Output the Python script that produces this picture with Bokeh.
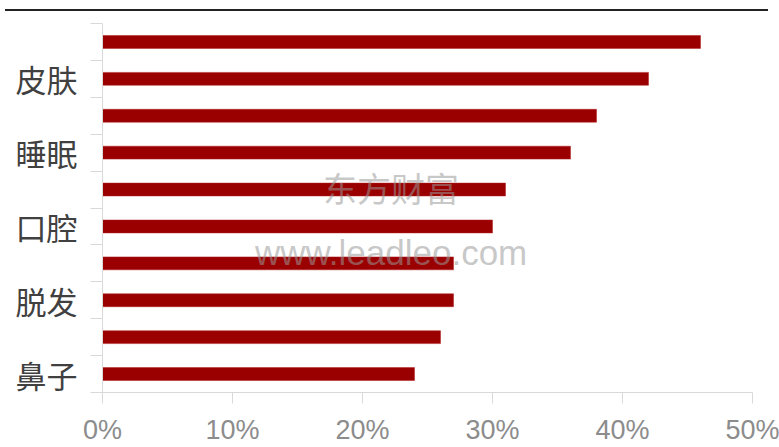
from bokeh.plotting import figure
from bokeh.models import FixedTicker, PrintfTickFormatter, Div, Label, ColumnDataSource
from bokeh.layouts import column
from bokeh.embed import file_html
from bokeh.resources import INLINE

# Data, top to bottom
labels = ["", "皮肤", "", "睡眠", "", "口腔", "", "脱发", "", "鼻子"]
values = [46, 42, 38, 36, 31, 30, 27, 27, 26, 24]
x_ticks = [0, 10, 20, 30, 40, 50]

n = len(values)
ypos = [n - 1 - i + 0.5 for i in range(n)]
src = ColumnDataSource(dict(y=ypos, v=values))

p = figure(width=779, height=436, output_backend="svg", toolbar_location=None,
           x_range=(0, 50), y_range=(0, n),
           min_border_left=102, min_border_right=27,
           min_border_top=12, min_border_bottom=52)
p.outline_line_color = None
p.xgrid.visible = False
p.ygrid.visible = False
p.background_fill_color = "white"
p.border_fill_color = "white"

p.hbar(y="y", right="v", left=0, height=0.35, source=src,
       fill_color="#9b0000", line_color="#b02020", line_width=0.5)

# x axis
p.xaxis.ticker = FixedTicker(ticks=x_ticks, minor_ticks=[])
p.xaxis.formatter = PrintfTickFormatter(format="%d%%")
p.xaxis.axis_line_color = "#d9d9d9"
p.xaxis.major_tick_line_color = "#d9d9d9"
p.xaxis.major_tick_out = 11
p.xaxis.major_tick_in = 0
p.xaxis.minor_tick_line_color = None
p.xaxis.major_label_text_font = "Liberation Sans"
p.xaxis.major_label_text_font_size = "27px"
p.xaxis.major_label_text_color = "#8c8c8c"
p.xaxis.major_label_standoff = 11

# y axis
centers = ypos
bounds = [i for i in range(n + 1)]
p.yaxis.ticker = FixedTicker(ticks=centers, minor_ticks=bounds)
p.yaxis.major_label_overrides = {c: lab for c, lab in zip(centers, labels)}
p.yaxis.axis_line_color = "#d9d9d9"
p.yaxis.major_tick_line_color = None
p.yaxis.major_tick_out = 0
p.yaxis.minor_tick_line_color = "#d9d9d9"
p.yaxis.minor_tick_out = 12
p.yaxis.minor_tick_in = 0
p.yaxis.major_label_text_font = "Noto Sans CJK SC"
p.yaxis.major_label_text_font_size = "31px"
p.yaxis.major_label_text_color = "#404040"
p.yaxis.major_label_standoff = 13

# watermark
p.add_layout(Label(x=22.2, y=5.55, text="东方财富", text_font="Noto Sans CJK SC",
                   text_font_size="34px", text_color="#999999", text_alpha=0.55,
                   text_align="center", text_baseline="middle"))
p.add_layout(Label(x=22.2, y=3.8, text="www.leadleo.com", text_font="Liberation Sans",
                   text_font_size="35px", text_color="#999999", text_alpha=0.55,
                   text_align="center", text_baseline="middle"))

line = Div(text="", width=763, height=11, margin=(0, 0, 0, 5),
           styles={"border-bottom": "2px solid #222222"})

layout = column(line, p, spacing=0)
open("out.html", "w").write(file_html(layout, INLINE))
